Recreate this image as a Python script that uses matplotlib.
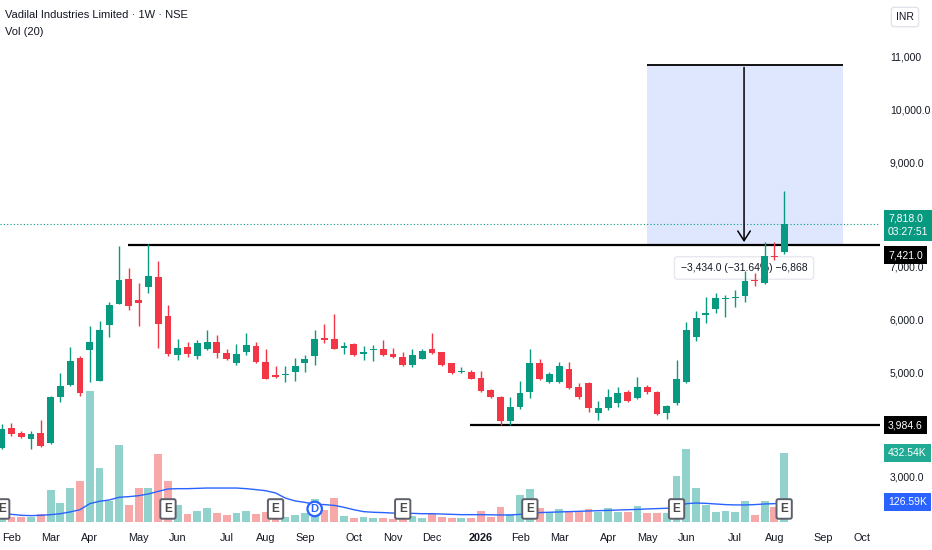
import matplotlib
matplotlib.use('Agg')
import numpy as np
import matplotlib.pyplot as plt
from matplotlib.transforms import blended_transform_factory
from matplotlib.patches import Rectangle

plt.rcParams['font.family'] = ['Liberation Sans', 'DejaVu Sans']

# ---------------- weekly OHLC (Vadilal Industries, NSE) ----------------
opens = [3551, 3932, 3837, 3723, 3837, 3647, 4523, 4752, 5266, 5418,
         4828, 5895, 6295, 6771, 6371, 6619, 6809, 6066, 5323, 5476,
         5304, 5437, 5571, 5361, 5171, 5380, 5495, 5190, 4942, 4942,
         4999, 5171, 5304, 5647, 5628, 5457, 5533, 5342, 5418, 5437,
         5342, 5285, 5133, 5247, 5437, 5380, 5171, 4999, 4999, 4885,
         4656, 4523, 4066, 4333, 4618, 5171, 4809, 4809, 5056, 4713,
         4790, 4218, 4313, 4409, 4618, 4504, 4713, 4618, 4218, 4409,
         4809, 5666, 6085, 6200, 6390, 6409, 6447, 6752, 6695, 7209,
         7285]
highs = [4003, 4027, 3875, 3875, 4085, 4542, 4980, 5476, 5304, 5876,
         5971, 6333, 7400, 6981, 6695, 7438, 7114, 6276, 5628, 5571,
         5609, 5800, 5704, 5437, 5533, 5742, 5571, 5437, 5114, 5114,
         5266, 5323, 5800, 5914, 6104, 5571, 5552, 5495, 5514, 5609,
         5457, 5380, 5437, 5437, 5742, 5390, 5180, 5095, 5037, 5018,
         4675, 4542, 4523, 4828, 5437, 5247, 4999, 5190, 5190, 4790,
         4809, 4447, 4675, 4713, 4656, 4904, 4752, 4630, 4371, 5228,
         5952, 6161, 6428, 6504, 6466, 6561, 6923, 6885, 7476, 7476,
         8447]
lows = [3530, 3780, 3742, 3532, 3571, 3628, 4428, 4740, 4542, 4809,
        4820, 5666, 6290, 6180, 5876, 6504, 5457, 5304, 5228, 5285,
        5247, 5420, 5266, 5228, 5133, 5323, 5171, 4860, 4885, 4809,
        4828, 4999, 5133, 5552, 5430, 5342, 5304, 5228, 5209, 5304,
        5266, 5114, 5095, 5240, 5342, 5114, 4961, 4980, 4860, 4618,
        4504, 3985, 3990, 4294, 4504, 4847, 4790, 4800, 4675, 4485,
        4237, 4085, 4275, 4333, 4428, 4485, 4580, 4180, 4104, 4371,
        4800, 5590, 5933, 6123, 6047, 6238, 6333, 6638, 6676, 7133,
        7247]
closes = [3913, 3818, 3761, 3818, 3590, 4523, 4733, 5209, 4599, 5571,
          5800, 6276, 6752, 6257, 6314, 6828, 5914, 5342, 5457, 5342,
          5552, 5571, 5361, 5247, 5342, 5514, 5190, 4866, 4904, 4961,
          5114, 5247, 5628, 5609, 5437, 5495, 5323, 5380, 5437, 5323,
          5285, 5133, 5323, 5400, 5361, 5133, 4980, 5018, 4866, 4637,
          4523, 4066, 4333, 4599, 5171, 4866, 4961, 5114, 4694, 4523,
          4313, 4313, 4523, 4599, 4447, 4713, 4618, 4199, 4352, 4866,
          5800, 6028, 6123, 6409, 6409, 6428, 6733, 6733, 7209, 7190,
          7818]
# volume in thousands, and its 20-week average as drawn
volumes = [36, 31, 31, 29, 48, 203, 121, 215, 259, 819,
           339, 130, 485, 109, 215, 215, 424, 259, 109, 48,
           67, 86, 54, 42, 54, 67, 48, 61, 19, 29,
           42, 54, 144, 73, 148, 36, 23, 29, 23, 23,
           17, 17, 36, 23, 48, 29, 23, 23, 23, 67,
           31, 92, 52, 171, 209, 86, 61, 84, 61, 61,
           79, 61, 86, 61, 61, 102, 54, 54, 54, 290,
           460, 211, 109, 61, 67, 61, 134, 42, 134, 96,
           433]
vol_ma = [56, 48, 42, 40, 42, 46, 52, 63, 77, 115,
          130, 138, 155, 159, 165, 176, 192, 207, 209, 209,
          211, 213, 213, 213, 213, 209, 203, 196, 182, 150,
          132, 123, 111, 109, 104, 92, 77, 65, 61, 59,
          56, 54, 54, 52, 52, 50, 48, 46, 46, 46,
          45, 44, 44, 48, 56, 59, 61, 63, 65, 67,
          69, 71, 73, 75, 77, 79, 82, 84, 86, 90,
          115, 119, 117, 113, 109, 107, 107, 109, 113, 115,
          122]

month_labels = ['Feb', 'Mar', 'Apr', 'May', 'Jun', 'Jul', 'Aug', 'Sep', 'Oct', 'Nov', 'Dec',
                '2026', 'Feb', 'Mar', 'Apr', 'May', 'Jun', 'Jul', 'Aug', 'Sep', 'Oct']
month_idx = [1, 5, 9, 14, 18, 23, 27, 31, 36, 40, 44, 49, 53, 57, 62, 66, 70, 75, 79, 84, 88]
price_ticks = [3000, 5000, 6000, 7000, 8000, 9000, 10000, 11000]
price_tick_labels = ['3,000.0', '5,000.0', '6,000.0', '7,000.0',
                     '8,000.0', '9,000.0', '10,000.0', '11,000']
earnings_idx = [0, 17, 28, 41, 54, 69, 80]
dividend_idx = [32]

last_price = 7818.0
resistance = 7421.0
support = 3984.6
measure_top = 10855.0
measure_from, measure_to = 65.98, 86.0   # bar index span of the measure box
resist_from, support_from = 12.9, 47.9

GREEN = '#089981'
RED = '#f23645'
VGREEN = '#92d2cc'
VRED = '#f7a9a9'
TXT = '#131722'

opens = np.array(opens, float); closes = np.array(closes, float)
highs = np.array(highs, float); lows = np.array(lows, float)
x = np.arange(len(opens))
up = closes >= opens

fig = plt.figure(figsize=(9.32, 5.5), dpi=100)
rect = [0, 28 / 550, 880 / 932, 522 / 550]
ax_vol = fig.add_axes(rect)
ax = fig.add_axes(rect)
ax.patch.set_alpha(0)
xl = (-0.174, 89.8)

# ---- volume pane ----
ax_vol.bar(x, volumes, width=0.8, color=np.where(up, VGREEN, VRED), linewidth=0, zorder=2)
ax_vol.plot(x, vol_ma, color='#2962ff', lw=1, zorder=3)
ax_vol.set_xlim(*xl)
ax_vol.set_ylim(0, 522 * 6.27)
ax_vol.axis('off')
etr = blended_transform_factory(ax_vol.transData, ax_vol.transAxes)
for i in earnings_idx:
    ax_vol.text(i, 0.025, 'E', transform=etr, ha='center', va='center', fontsize=8.5,
                color='#4a4a4a', fontweight='bold', zorder=6,
                bbox=dict(boxstyle='round,pad=0.32,rounding_size=0.15', fc='white',
                          ec='#5d606b', lw=1.4))
for i in dividend_idx:
    ax_vol.text(i, 0.025, 'D', transform=etr, ha='center', va='center', fontsize=8,
                color='#2962ff', fontweight='bold', zorder=6,
                bbox=dict(boxstyle='circle,pad=0.2', fc='white', ec='#2962ff', lw=1.6))

# ---- price pane ----
ax.add_patch(Rectangle((measure_from, resistance), measure_to - measure_from,
                       measure_top - resistance, fc='#2962ff', alpha=0.15, ec='none', zorder=1))
ax.hlines(measure_top, measure_from, measure_to, color='black', lw=1.3, zorder=2)
ax.annotate('', xy=(75.9, resistance), xytext=(75.9, measure_top),
            arrowprops=dict(arrowstyle='->,head_length=0.7,head_width=0.45', color='black', lw=1.1),
            zorder=2)
ax.text(75.9, 6981, '\u22123,434.0 (\u221231.64%) \u22126,868', ha='center', va='center',
        fontsize=7.5, color=TXT, zorder=2.2,
        bbox=dict(boxstyle='round,pad=0.6,rounding_size=0.3', fc='white', ec='#e6e8ee', lw=1))
ax.axhline(last_price, color=GREEN, ls=(0, (1, 2)), lw=0.8, zorder=1.5)
ax.hlines(resistance, resist_from, xl[1], color='black', lw=1.6, zorder=2.5)
ax.hlines(support, support_from, xl[1], color='black', lw=1.6, zorder=2.5)

cols = np.where(up, GREEN, RED)
ax.vlines(x, lows, highs, colors=cols, lw=1, zorder=3)
ax.bar(x, np.maximum(np.abs(closes - opens), 18), bottom=np.minimum(opens, closes),
       width=0.7, color=cols, linewidth=0, zorder=3.1)

ax.set_xlim(*xl)
ax.set_ylim(11000 - 465 / 0.0525, 11000 + 57 / 0.0525)
for s in ax.spines.values():
    s.set_visible(False)
ax.yaxis.tick_right()
ax.set_yticks(price_ticks)
ax.set_yticklabels(price_tick_labels)
ax.set_xticks(month_idx)
ax.set_xticklabels(month_labels)
for lbl in ax.get_xticklabels():
    if lbl.get_text() == '2026':
        lbl.set_fontweight('bold')
ax.tick_params(axis='y', length=0, pad=7, labelsize=7.5, labelcolor=TXT)
ax.tick_params(axis='x', length=0, pad=8, labelsize=7.8, labelcolor=TXT)

# ---- right-axis value labels ----
ptr = blended_transform_factory(fig.transFigure, ax.transData)
vtr = blended_transform_factory(fig.transFigure, ax_vol.transData)
lx = 888 / 932
lab = dict(va='center', ha='left', fontsize=7.5, color='white')
fig.text(lx, 7790, '7,818.0\n03:27:51', transform=ptr, linespacing=1.45,
         bbox=dict(boxstyle='square,pad=0.4', fc=GREEN, ec='none'), **lab)
fig.text(lx, 7228, '7,421.0', transform=ptr,
         bbox=dict(boxstyle='square,pad=0.4', fc='black', ec='none'), **lab)
fig.text(lx, support, '3,984.6', transform=ptr,
         bbox=dict(boxstyle='square,pad=0.4', fc='black', ec='none'), **lab)
fig.text(lx, volumes[-1], '432.54K', transform=vtr,
         bbox=dict(boxstyle='square,pad=0.4', fc='#22ab94', ec='none'), **lab)
fig.text(lx, 125, '126.59K', transform=vtr,
         bbox=dict(boxstyle='square,pad=0.4', fc='#2962ff', ec='none'), **lab)

# ---- header ----
fig.text(5 / 932, 1 - 15 / 550, 'Vadilal Industries Limited \u00b7 1W \u00b7 NSE',
         fontsize=8, color=TXT, va='center')
fig.text(5 / 932, 1 - 32 / 550, 'Vol (20)', fontsize=8, color=TXT, va='center')
fig.text(905 / 932, 1 - 17 / 550, 'INR', fontsize=7.5, color=TXT, ha='center', va='center',
         bbox=dict(boxstyle='round,pad=0.45,rounding_size=0.25', fc='white', ec='#e0e3eb'))

fig.savefig('out.png', dpi=100)
